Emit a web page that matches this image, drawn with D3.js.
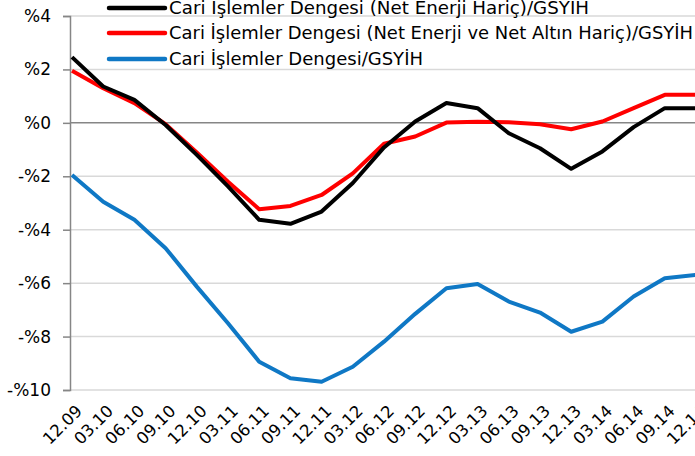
<!DOCTYPE html>
<meta charset="utf-8">
<style>
body { margin: 0; background: #fff; }
svg text { font-family: "DejaVu Sans", Verdana, sans-serif; fill: #000; }
</style>
<body>
<div id="chart"></div>
<script src="https://d3js.org/d3.v7.min.js"></script>
<script>

// categories (quarter.year)
var donemler = ["12.09","03.10","06.10","09.10","12.10","03.11","06.11","09.11","12.11","03.12","06.12",
                "09.12","12.12","03.13","06.13","09.13","12.13","03.14","06.14","09.14","12.14"];

// series values, % of GDP
var netEnerjiHaric = [2.46, 1.36, 0.86, -0.08, -1.2, -2.38, -3.63, -3.78, -3.32, -2.25, -0.92,
                      0.05, 0.74, 0.55, -0.39, -0.95, -1.72, -1.07, -0.16, 0.55, 0.55];
var netEnerjiAltinHaric = [1.95, 1.3, 0.74, -0.05, -1.11, -2.2, -3.23, -3.11, -2.7, -1.89, -0.78,
                           -0.51, 0.01, 0.04, 0.02, -0.05, -0.24, 0.05, 0.55, 1.05, 1.05];
var cariDenge = [-1.95, -2.95, -3.63, -4.69, -6.13, -7.5, -8.94, -9.56, -9.69, -9.13, -8.19,
                 -7.15, -6.19, -6.03, -6.69, -7.1, -7.82, -7.44, -6.5, -5.82, -5.69];

var yTicks = [4, 2, 0, -2, -4, -6, -8, -10];
var seriesNames = ["Cari İşlemler Dengesi (Net Enerji Hariç)/GSYİH",
                   "Cari İşlemler Dengesi (Net Enerji ve Net Altın Hariç)/GSYİH",
                   "Cari İşlemler Dengesi/GSYİH"];

var largeur = 695, hauteur = 456;

var series = [
  {name: seriesNames[0], values: netEnerjiHaric, color: "#000000", w: 420},
  {name: seriesNames[1], values: netEnerjiAltinHaric, color: "#ff0000", w: 524},
  {name: seriesNames[2], values: cariDenge, color: "#0f78c5", w: 254}
];

var svg = d3.select("#chart").append("svg")
    .attr("width", largeur)
    .attr("height", hauteur);

var x = d3.scalePoint().domain(donemler).range([72, 696]);
var y = d3.scaleLinear().domain([-10, 4]).range([390, 16]);

// gridlines
svg.append("g").selectAll("line")
  .data(yTicks.filter(d => d !== 0))
  .join("line")
    .attr("x1", 70).attr("x2", largeur)
    .attr("y1", d => y(d)).attr("y2", d => y(d))
    .attr("stroke", "#d9d9d9")
    .attr("stroke-width", 1.5);

// y axis
var yAxis = d3.axisLeft(y).tickValues(yTicks).tickSize(7).tickPadding(12)
    .tickFormat(d => (d < 0 ? "-%" + (-d) : "%" + d));
var gy = svg.append("g")
    .attr("transform", "translate(70,0)")
    .call(yAxis);
gy.select(".domain").attr("stroke", "#868686").attr("stroke-width", 1.5);
gy.selectAll(".tick line").attr("stroke", "#868686").attr("stroke-width", 1.5);
gy.selectAll(".tick text").style("font-size", "17px");

// zero line (category axis)
svg.append("line")
    .attr("x1", 70).attr("x2", largeur)
    .attr("y1", y(0)).attr("y2", y(0))
    .attr("stroke", "#868686")
    .attr("stroke-width", 1.5);

// x labels, rotated
svg.append("g").selectAll("text")
  .data(donemler)
  .join("text")
    .attr("transform", d => "translate(" + (x(d) + 7) + ",408) rotate(-45)")
    .attr("text-anchor", "end")
    .attr("dy", "0.35em")
    .style("font-size", "16.5px")
    .text(d => d);

// lines
var line = d3.line()
    .x((d, i) => x(donemler[i]))
    .y(d => y(d));

series.slice().reverse().forEach(function(s) {
  svg.append("path")
      .datum(s.values)
      .attr("fill", "none")
      .attr("stroke", s.color)
      .attr("stroke-width", 4)
      .attr("stroke-linejoin", "round")
      .attr("d", line);
});

// legend
var legend = svg.append("g").selectAll("g")
  .data(series)
  .join("g")
    .attr("transform", (d, i) => "translate(0," + [8, 33, 59][i] + ")");
legend.append("line")
    .attr("x1", 109).attr("x2", 165)
    .attr("stroke", d => d.color)
    .attr("stroke-width", 4.5)
    .attr("stroke-linecap", "round");
legend.append("text")
    .attr("x", 169)
    .attr("dy", "0.35em")
    .style("font-size", "17px")
    .attr("textLength", d => d.w)
    .attr("lengthAdjust", "spacingAndGlyphs")
    .text(d => d.name);

</script>
</body>
